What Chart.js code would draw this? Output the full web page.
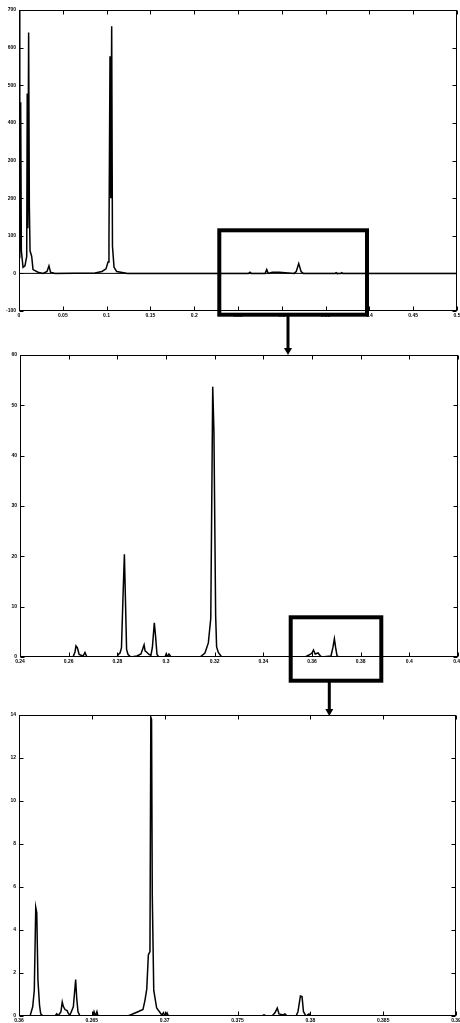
<!DOCTYPE html>
<html><head><meta charset="utf-8">
<script src="https://cdn.jsdelivr.net/npm/chart.js@4.4.1/dist/chart.umd.min.js"></script>
<style>
html,body{margin:0;padding:0;background:#fff;width:460px;height:1023px;overflow:hidden;}
.p{position:absolute;left:0;}
svg{position:absolute;left:0;top:0;pointer-events:none;}
</style></head><body>
<div class="p" style="top:0px"><canvas id="c1" width="460" height="325"></canvas></div>
<div class="p" style="top:345px"><canvas id="c2" width="460" height="326"></canvas></div>
<div class="p" style="top:705px"><canvas id="c3" width="460" height="318"></canvas></div>
<svg width="460" height="1023">
 <rect x="219.3" y="230.3" width="147.7" height="84.4" fill="none" stroke="#000" stroke-width="4"/>
 <line x1="288" y1="316" x2="288" y2="349" stroke="#000" stroke-width="3"/>
 <polygon points="284,348 292,348 288,355" fill="#000"/>
 <rect x="290.7" y="617.3" width="90.6" height="63.4" fill="none" stroke="#000" stroke-width="4"/>
 <line x1="329.3" y1="682" x2="329.3" y2="710" stroke="#000" stroke-width="3"/>
 <polygon points="325.3,709 333.3,709 329.3,716" fill="#000"/>
</svg>
<script>
// ---- Panel 1 (full spectrum) ----
const p1X = [0.0002,0.0009,0.0019,0.0027,0.0046,0.0068,0.0088,0.0094,0.0101,0.0110,0.0118,0.0126,0.0145,0.0160,0.0217,0.0274,0.0320,0.0342,0.0360,0.0410,0.0868,0.0947,0.0993,0.1016,0.1027,0.1039,0.1048,0.1058,0.1067,0.1085,0.1115,0.1210,0.1233,0.2620,0.2637,0.2650,0.2810,0.2828,0.2845,0.2890,0.2970,0.3140,0.3165,0.3193,0.3220,0.3245,0.3610,0.3620,0.3630,0.3675,0.3685,0.3695,0.5];
const p1Y = [700,40,455,60,16,20,45,478,120,640,183,60,45,10,3,0,5,20,3,0,1,5,12,30,90,577,200,657,72,16,5,1,0,0,3,0,0,10,0,3,3,0,5,26,5,0,0,2,0,0,2,0,0];
const p1XTicks = [0,0.05,0.1,0.15,0.2,0.25,0.3,0.35,0.4,0.45,0.5];
const p1YTicks = [-100,0,100,200,300,400,500,600,700];

// ---- Panel 2 (zoom 0.24 - 0.42) ----
const p2X = [0.24,0.2618,0.2626,0.2630,0.2636,0.2643,0.2659,0.2667,0.2675,0.2799,0.2804,0.2811,0.2817,0.2823,0.2829,0.2834,0.2838,0.2844,0.2856,0.2881,0.2897,0.2910,0.2914,0.2922,0.2930,0.2938,0.2944,0.2952,0.2957,0.2963,0.2971,0.2996,0.3000,0.3004,0.3012,0.3021,0.3140,0.3160,0.3174,0.3184,0.3192,0.3197,0.3204,0.3208,0.3215,0.3229,0.3572,0.3592,0.3600,0.3606,0.3613,0.3625,0.3633,0.3641,0.3678,0.3686,0.3692,0.3697,0.3703,0.3711,0.42];
const p2Y = [0,0,1.0,2.2,1.8,0.5,0.2,0.9,0,0,0.5,0.8,1.8,11.5,20.4,10,1.5,0.5,0,0.2,0.6,2.4,1.2,0.9,0.5,0.3,1.9,6.8,4.2,0.5,0,0,0.5,0,0.6,0,0,0.8,2.8,7.7,53.7,44.8,8.3,2.0,0.9,0,0,0.5,0.8,1.4,0.6,0.8,0.3,0,0.2,1.9,3.6,1.9,0.2,0,0];
const p2XTicks = [0.24,0.26,0.28,0.3,0.32,0.34,0.36,0.38,0.4,0.42];
const p2YTicks = [0,10,20,30,40,50,60];

// ---- Panel 3 (zoom 0.36 - 0.39) ----
const p3X = [0.36,0.36076,0.36094,0.36105,0.36115,0.36122,0.36130,0.36141,0.36149,0.36165,0.36247,0.36259,0.36268,0.36288,0.36297,0.36304,0.36316,0.36330,0.36340,0.36350,0.36373,0.36389,0.36396,0.36405,0.36419,0.36508,0.36515,0.36525,0.36535,0.36542,0.36748,0.36817,0.36851,0.36865,0.36877,0.36888,0.36899,0.36905,0.36910,0.36915,0.36925,0.36945,0.36980,0.36992,0.37002,0.37016,0.37026,0.37668,0.37682,0.37696,0.37737,0.37757,0.37773,0.37785,0.37812,0.37826,0.37840,0.37902,0.37915,0.37932,0.37943,0.37953,0.37970,0.37991,0.37998,0.39];
const p3Y = [0,0,0.43,1.2,5.05,4.8,1.67,0.5,0.1,0,0,0.1,0,0.2,0.65,0.45,0.3,0.25,0.1,0.05,0.43,1.7,0.85,0.2,0,0,0.2,0,0.2,0,0,0.2,0.3,0.74,1.25,2.84,3.0,13.9,13.8,5.6,1.2,0.37,0.05,0.15,0,0.15,0,0,0.05,0,0,0.15,0.37,0.1,0.05,0.1,0,0,0.2,0.93,0.9,0.2,0,0.1,0,0];
const p3XTicks = [0.36,0.365,0.37,0.375,0.38,0.385,0.39];
const p3YTicks = [0,2,4,6,8,10,12,14];

const boxTicks = {
  id:'boxTicks',
  afterDraw(chart){
    const {ctx, chartArea:a, scales:{x,y}} = chart;
    const L=Math.round(a.left)+0.5, R=Math.round(a.right)-0.5, T=Math.round(a.top)+0.5, B=Math.round(a.bottom)-0.5;
    ctx.save();
    ctx.strokeStyle='#000'; ctx.lineWidth=1;
    ctx.strokeRect(L,T,R-L,B-T);
    ctx.beginPath();
    x.ticks.forEach(t=>{
      const px=Math.round(x.getPixelForValue(t.value))+0.5;
      ctx.moveTo(px,B); ctx.lineTo(px,B-4);
      ctx.moveTo(px,T); ctx.lineTo(px,T+4);
    });
    y.ticks.forEach(t=>{
      const py=Math.round(y.getPixelForValue(t.value))+0.5;
      ctx.moveTo(L,py); ctx.lineTo(L+4,py);
      ctx.moveTo(R,py); ctx.lineTo(R-4,py);
    });
    ctx.stroke();
    ctx.restore();
  }
};

function pts(xs,ys){ return xs.map((v,i)=>({x:v,y:ys[i]})); }

function make(id, xs, ys, xt, yt, yW, xH, padR, lw, zero){
  const datasets=[{data:pts(xs,ys),borderColor:'#000',borderWidth:lw,pointRadius:0,showLine:true,tension:0}];
  if(zero){ datasets.unshift({data:[{x:xt[0],y:0},{x:xt[xt.length-1],y:0}],borderColor:'#000',borderWidth:1,pointRadius:0,showLine:true}); }
  const font={family:'"Liberation Sans", Arial, sans-serif',size:5,weight:'bold'};
  new Chart(document.getElementById(id),{
    type:'scatter',
    data:{datasets},
    options:{
      responsive:false,animation:false,
      layout:{padding:{top:10,right:padR,left:0,bottom:0}},
      plugins:{legend:{display:false},tooltip:{enabled:false}},
      scales:{
        x:{type:'linear',min:xt[0],max:xt[xt.length-1],
          grid:{display:false,drawTicks:false},border:{display:false},
          afterBuildTicks:s=>{s.ticks=xt.map(v=>({value:v}));},
          afterFit:s=>{s.height=xH;s.paddingLeft=0;s.paddingRight=0;},
          ticks:{color:'#000',font,padding:2,maxRotation:0,autoSkip:false,callback:v=>String(v)}},
        y:{type:'linear',min:yt[0],max:yt[yt.length-1],
          grid:{display:false,drawTicks:false},border:{display:false},
          afterBuildTicks:s=>{s.ticks=yt.map(v=>({value:v}));},
          afterFit:s=>{s.width=yW;s.paddingTop=0;s.paddingBottom=0;},
          ticks:{color:'#000',font,padding:3,autoSkip:false,callback:v=>String(v)}}
      }
    },
    plugins:[boxTicks]
  });
}
make('c1',p1X,p1Y,p1XTicks,p1YTicks,19,14,3,1.5,true);
make('c2',p2X,p2Y,p2XTicks,p2YTicks,20,14,2,1.5,false);
make('c3',p3X,p3Y,p3XTicks,p3YTicks,19,7,4,1.5,false);
</script>
</body></html>
